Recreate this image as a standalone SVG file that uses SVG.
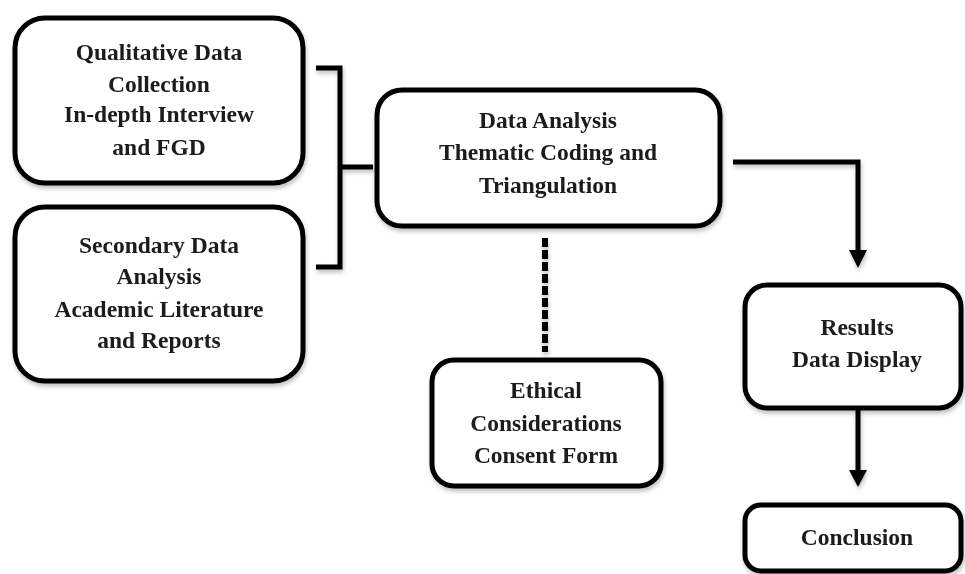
<svg xmlns="http://www.w3.org/2000/svg" width="965" height="574" viewBox="0 0 965 574">
<defs>
<style>
.box{fill:#fff;stroke:#000;stroke-width:5;}
.t{font-family:"Liberation Serif","Times New Roman",serif;font-weight:bold;font-size:23.5px;fill:#1a1a1a;text-anchor:middle;}
.ln{fill:none;stroke:#000;stroke-width:5;}
.hd{fill:#000;}
</style>
<filter id="sh" x="-10%" y="-10%" width="120%" height="130%">
<feGaussianBlur in="SourceAlpha" stdDeviation="2"/>
<feOffset dx="1" dy="3" result="b"/>
<feComponentTransfer><feFuncA type="linear" slope="0.25"/></feComponentTransfer>
<feMerge><feMergeNode/><feMergeNode in="SourceGraphic"/></feMerge>
</filter>
</defs>
<rect width="965" height="574" fill="#fff"/>
<g id="connectors" filter="url(#sh)">
<path class="ln" d="M316,68 H340 V267 H316"/>
<path class="ln" d="M340,167 H373"/>
<path class="ln" d="M733,162 H858 V252"/>
<polygon class="hd" points="849,250 867,250 858,268"/>
<path class="ln" d="M858,410 V472"/>
<polygon class="hd" points="849,470 867,470 858,487"/>
<path d="M545,238 V352" fill="none" stroke="#000" stroke-width="6" stroke-dasharray="9,3"/>
</g>
<g id="qualitative" filter="url(#sh)">
<rect class="box" x="15" y="18" width="288" height="165" rx="30"/>
<text class="t" x="159" y="60">Qualitative  Data</text>
<text class="t" x="159" y="92">Collection</text>
<text class="t" x="159" y="122">In-depth Interview</text>
<text class="t" x="159" y="155">and FGD</text>
</g>
<g id="secondary" filter="url(#sh)">
<rect class="box" x="15" y="207" width="288" height="174" rx="30"/>
<text class="t" x="159" y="253">Secondary Data</text>
<text class="t" x="159" y="284">Analysis</text>
<text class="t" x="159" y="317">Academic Literature</text>
<text class="t" x="159" y="348">and Reports</text>
</g>
<g id="analysis" filter="url(#sh)">
<rect class="box" x="377" y="90" width="343" height="136" rx="25"/>
<text class="t" x="548" y="128">Data Analysis</text>
<text class="t" x="548" y="160">Thematic Coding and</text>
<text class="t" x="548" y="193">Triangulation</text>
</g>
<g id="ethical" filter="url(#sh)">
<rect class="box" x="432" y="360" width="229" height="126" rx="22"/>
<text class="t" x="546" y="398">Ethical</text>
<text class="t" x="546" y="431">Considerations</text>
<text class="t" x="546" y="463">Consent Form</text>
</g>
<g id="results" filter="url(#sh)">
<rect class="box" x="745" y="285" width="216" height="123" rx="22"/>
<text class="t" x="857" y="335">Results</text>
<text class="t" x="857" y="367">Data Display</text>
</g>
<g id="conclusion" filter="url(#sh)">
<rect class="box" x="745" y="505" width="216" height="66" rx="16"/>
<text class="t" x="857" y="545">Conclusion</text>
</g>
</svg>
